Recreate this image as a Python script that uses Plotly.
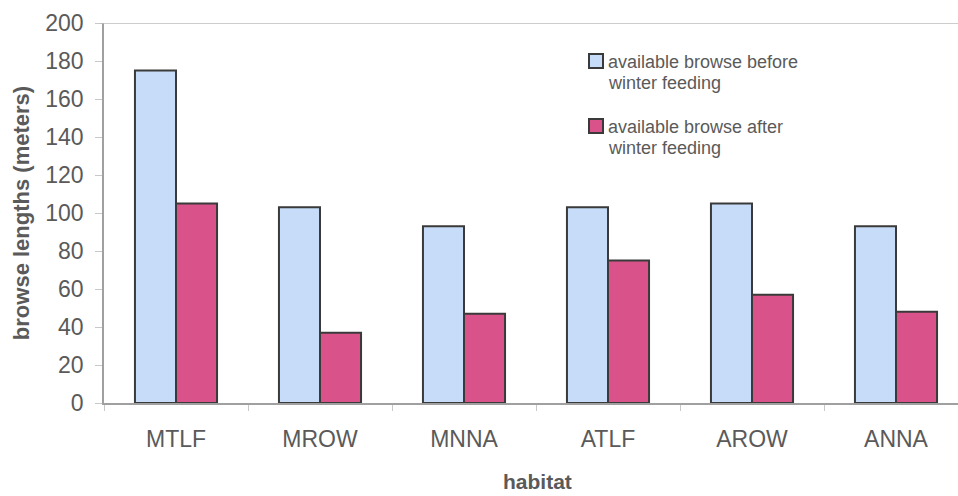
import plotly.graph_objects as go

habitats = ["MTLF", "MROW", "MNNA", "ATLF", "AROW", "ANNA"]
before_feeding = [175, 103, 93, 103, 105, 93]
after_feeding = [105, 37, 47, 75, 57, 48]
series_names = [
    ["available browse before", "winter feeding"],
    ["available browse after", "winter feeding"],
]
series_colors = ["#c6dcf8", "#d9538a"]
y_ticks = [0, 20, 40, 60, 80, 100, 120, 140, 160, 180, 200]

FONT = "Liberation Sans, Arial, sans-serif"
TEXT_GREY = "#5a5a5a"
AXIS_GREY = "#a0a0a0"
EDGE = "#3a3a3a"

W, H = 958, 496
L, R, T, B = 104, 0, 23, 93
plot_w = W - L - R
plot_h = H - T - B
cat_px = 144.0  # width of one category slot in pixels


def px_x(px):
    return (px - L) / plot_w


def px_y(py):
    return 1 - (py - T) / plot_h


fig = go.Figure()
for vals, names, color in zip([before_feeding, after_feeding], series_names, series_colors):
    fig.add_trace(go.Bar(
        x=habitats, y=vals, name=" ".join(names), showlegend=False,
        marker=dict(color=color, line=dict(color=EDGE, width=2)),
    ))

fig.update_layout(
    width=W, height=H,
    margin=dict(l=L, r=R, t=T, b=B, pad=0),
    paper_bgcolor="white", plot_bgcolor="white",
    barmode="group", bargap=0.43, bargroupgap=0,
    font=dict(family=FONT, color=TEXT_GREY),
    xaxis=dict(
        type="category", categoryorder="array", categoryarray=habitats,
        range=[-0.5, -0.5 + plot_w / cat_px],
        showline=True, linecolor=AXIS_GREY, linewidth=1.5,
        ticks="outside", tickson="boundaries", ticklen=6, tickcolor="#c8c8c8",
        tickfont=dict(family=FONT, size=23, color=TEXT_GREY),
        ticklabelstandoff=15,
        showgrid=False, zeroline=False,
    ),
    yaxis=dict(
        range=[0, 200], tickvals=y_ticks,
        showline=True, linecolor=AXIS_GREY, linewidth=1.5,
        ticks="outside", ticklen=7, tickcolor="#c8c8c8",
        tickfont=dict(family=FONT, size=23, color=TEXT_GREY),
        ticklabelstandoff=7,
        showgrid=False, zeroline=False,
        title=dict(text="<b>browse lengths (meters)</b>",
                   font=dict(family=FONT, size=22, color=TEXT_GREY), standoff=10),
    ),
)

# top border of the plot area
fig.add_shape(type="line", xref="paper", yref="y", x0=-0.005, x1=1, y0=200, y1=200,
              line=dict(color="#bdbdbd", width=1.5))

# legend: swatch + two text lines per series
entry_tops = [53, 118]
for top, names, color in zip(entry_tops, series_names, series_colors):
    fig.add_shape(type="rect", xref="paper", yref="paper",
                  x0=px_x(589), x1=px_x(603), y0=px_y(top + 1), y1=px_y(top + 15),
                  fillcolor=color, line=dict(color=EDGE, width=2))
    for i, line in enumerate(names):
        fig.add_annotation(
            text=line, xref="paper", yref="paper",
            x=px_x(606), y=px_y(top + 9 + 21 * i),
            xanchor="left", yanchor="middle", showarrow=False,
            font=dict(family=FONT, size=18, color=TEXT_GREY),
        )

# x-axis title, centred on the full category span
fig.add_annotation(
    text="<b>habitat</b>", xref="paper", yref="paper",
    x=px_x(537), y=-(495 - (H - B)) / plot_h,
    xanchor="center", yanchor="bottom", showarrow=False,
    font=dict(family=FONT, size=21, color=TEXT_GREY),
)

fig.write_html("out.html")
